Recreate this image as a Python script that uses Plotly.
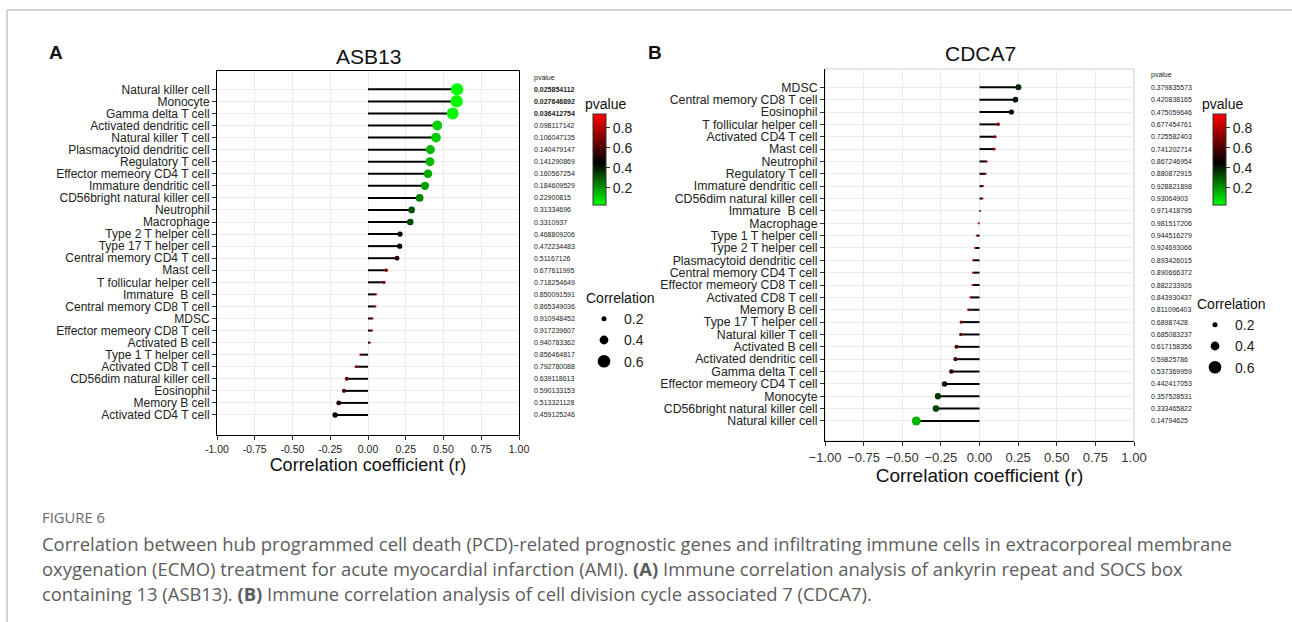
import plotly.graph_objects as go

W, H = 1292, 622

# ---------------- data ----------------
asb13_cells = ["Natural killer cell", "Monocyte", "Gamma delta T cell", "Activated dendritic cell",
               "Natural killer T cell", "Plasmacytoid dendritic cell", "Regulatory T cell",
               "Effector memeory CD4 T cell", "Immature dendritic cell", "CD56bright natural killer cell",
               "Neutrophil", "Macrophage", "Type 2 T helper cell", "Type 17 T helper cell",
               "Central memory CD4 T cell", "Mast cell", "T follicular helper cell", "Immature  B cell",
               "Central memory CD8 T cell", "MDSC", "Effector memeory CD8 T cell", "Activated B cell",
               "Type 1 T helper cell", "Activated CD8 T cell", "CD56dim natural killer cell",
               "Eosinophil", "Memory B cell", "Activated CD4 T cell"]
asb13_r = [0.590, 0.587, 0.561, 0.459, 0.450, 0.413, 0.410, 0.397, 0.377, 0.342,
           0.289, 0.280, 0.212, 0.210, 0.192, 0.121, 0.106, 0.053, 0.049, 0.031,
           0.029, 0.015, -0.051, -0.080, -0.141, -0.159, -0.194, -0.218]
asb13_p = [0.025854112, 0.027646892, 0.036412754, 0.098117142, 0.106047135, 0.140479147,
           0.141290869, 0.160567254, 0.184609529, 0.22900815, 0.31334696, 0.3310937,
           0.468809206, 0.472234483, 0.51167126, 0.677611995, 0.718254649, 0.850091591,
           0.865349036, 0.910948452, 0.917239607, 0.940783362, 0.856464817, 0.792780088,
           0.639118613, 0.590133153, 0.513321128, 0.459125246]

cdca7_cells = ["MDSC", "Central memory CD8 T cell", "Eosinophil", "T follicular helper cell",
               "Activated CD4 T cell", "Mast cell", "Neutrophil", "Regulatory T cell",
               "Immature dendritic cell", "CD56dim natural killer cell", "Immature  B cell",
               "Macrophage", "Type 1 T helper cell", "Type 2 T helper cell",
               "Plasmacytoid dendritic cell", "Central memory CD4 T cell", "Effector memeory CD8 T cell",
               "Activated CD8 T cell", "Memory B cell", "Type 17 T helper cell", "Natural killer T cell",
               "Activated B cell", "Activated dendritic cell", "Gamma delta T cell",
               "Effector memeory CD4 T cell", "Monocyte", "CD56bright natural killer cell",
               "Natural killer cell"]
cdca7_r = [0.252, 0.233, 0.207, 0.121, 0.101, 0.095, 0.047, 0.041, 0.024, 0.022,
           0.007, -0.008, -0.020, -0.029, -0.042, -0.043, -0.045, -0.058, -0.072, -0.118,
           -0.121, -0.149, -0.156, -0.182, -0.226, -0.269, -0.282, -0.409]
cdca7_p = [0.379835573, 0.420838165, 0.475059646, 0.677454761, 0.725582403, 0.741202714,
           0.867246954, 0.880872915, 0.928821898, 0.93064903, 0.971418795, 0.981517206,
           0.944516279, 0.924693066, 0.893426015, 0.890666372, 0.882233926, 0.843930437,
           0.811096403, 0.68987428, 0.685083237, 0.617158356, 0.59825786, 0.537369959,
           0.442417053, 0.357528531, 0.333465822, 0.14794625]

x_ticks = [-1.0, -0.75, -0.5, -0.25, 0.0, 0.25, 0.5, 0.75, 1.0]
x_ticktext_a = ["-1.00", "-0.75", "-0.50", "-0.25", "0.00", "0.25", "0.50", "0.75", "1.00"]
x_ticktext_b = ["\u22121.00", "\u22120.75", "\u22120.50", "\u22120.25", "0.00", "0.25", "0.50", "0.75", "1.00"]
size_legend_vals = [0.2, 0.4, 0.6]
cbar_ticks = [0.2, 0.4, 0.6, 0.8]

# ---------------- helpers ----------------
FONT = "Liberation Sans, Arial, sans-serif"
CAPFONT = "Open Sans, Noto Sans, sans-serif"
CMIN, CMAX = 0.026, 0.94
COLORSCALE = [[0.0, "#00FF00"], [0.46, "#000000"], [1.0, "#FF0000"]]


def px(x):
    return x / W


def py(y):
    return 1 - y / H


def dot_size(r):
    return 1.2 + 19 * abs(r)


def label(x, y, text, size, color="#111111", xanchor="center", family=FONT):
    fig.add_annotation(x=px(x), y=py(y), xref="paper", yref="paper", xanchor=xanchor,
                       yanchor="middle", text=text, showarrow=False,
                       font=dict(family=family, size=size, color=color))


fig = go.Figure()

panels = [
    dict(cells=asb13_cells, r=asb13_r, p=asb13_p, xa="x", ya="y", leg="legend",
         cb_x=593, cb_y=114, ptext_x=532),
    dict(cells=cdca7_cells, r=cdca7_r, p=cdca7_p, xa="x2", ya="y2", leg="legend2",
         cb_x=1213, cb_y=114, ptext_x=1149),
]

for pn in panels:
    seg_x, seg_y = [], []
    for c, r in zip(pn["cells"], pn["r"]):
        seg_x += [0, r, None]
        seg_y += [c, c, None]
    fig.add_trace(go.Scatter(x=seg_x, y=seg_y, mode="lines", xaxis=pn["xa"], yaxis=pn["ya"],
                             line=dict(color="black", width=2), showlegend=False, hoverinfo="skip"))
    fig.add_trace(go.Scatter(
        x=pn["r"], y=pn["cells"], mode="markers", xaxis=pn["xa"], yaxis=pn["ya"], showlegend=False,
        marker=dict(size=[dot_size(r) for r in pn["r"]], color=pn["p"], colorscale=COLORSCALE,
                    cmin=CMIN, cmax=CMAX, line=dict(width=0), opacity=1,
                    colorbar=dict(x=px(pn["cb_x"]), xanchor="left", xpad=0,
                                  y=py(pn["cb_y"]), yanchor="top", ypad=0,
                                  thickness=13, len=91, lenmode="pixels",
                                  outlinewidth=1, outlinecolor="#333333",
                                  tickvals=cbar_ticks, ticktext=[f"{v:.1f}" for v in cbar_ticks],
                                  ticks="outside", ticklen=4, tickcolor="#333333",
                                  tickfont=dict(family=FONT, size=14, color="#222222")))))
    # size legend entries
    for s in size_legend_vals:
        fig.add_trace(go.Scatter(x=[None], y=[None], mode="markers", xaxis=pn["xa"], yaxis=pn["ya"],
                                 marker=dict(size=dot_size(s), color="black"), name=f"{s}",
                                 legend=pn["leg"], showlegend=True))
    # p-value column
    for c, p in zip(pn["cells"], pn["p"]):
        t = str(p)
        if p < 0.05:
            t = f"<b>{t}</b>"
        fig.add_annotation(x=px(pn["ptext_x"]), xref="paper", xanchor="left", y=c, yref=pn["ya"],
                           yanchor="middle", text=t, showarrow=False,
                           font=dict(family=FONT, size=7, color="#222222"))

# p-value headers and colorbar titles
label(532, 78, "pvalue", 7, "#222222", "left")
label(1149, 75, "pvalue", 7, "#222222", "left")
label(583, 104, "pvalue", 14, "#111111", "left")
label(1200, 104, "pvalue", 14, "#111111", "left")

# panel titles and letters
label(368, 57, "ASB13", 21)
label(980, 53, "CDCA7", 21)
label(56, 52, "<b>A</b>", 19)
label(655, 52, "<b>B</b>", 19)

# caption
label(40, 517, "FIGURE 6", 14.8, "#6a6a6a", "left", CAPFONT)
cap_lines = [
    "Correlation between hub programmed cell death (PCD)-related prognostic genes and infiltrating immune cells in extracorporeal membrane",
    "oxygenation (ECMO) treatment for acute myocardial infarction (AMI). <b>(A)</b> Immune correlation analysis of ankyrin repeat and SOCS box",
    "containing 13 (ASB13). <b>(B)</b> Immune correlation analysis of cell division cycle associated 7 (CDCA7).",
]
for i, line in enumerate(cap_lines):
    label(40, 543 + 25 * i, line, 18.4, "#5c5c5c", "left", CAPFONT)

# card border
fig.add_shape(type="line", xref="paper", yref="paper", x0=px(7), x1=1, y0=py(10), y1=py(10),
              line=dict(color="#c4c4c4", width=1.5))
fig.add_shape(type="line", xref="paper", yref="paper", x0=px(7), x1=px(7), y0=py(10), y1=0,
              line=dict(color="#c4c4c4", width=1.5))
# light gray frame for panel B (top/right)
fig.add_shape(type="rect", xref="x2 domain", yref="y2 domain", x0=0, x1=1, y0=0, y1=1,
              line=dict(color="#cccccc", width=1), layer="below")

axis_common = dict(showgrid=True, gridcolor="#EBEBEB", gridwidth=1, zeroline=False, automargin=False,
                   ticks="outside", ticklen=4, tickcolor="#333333", showline=True, linecolor="black",
                   linewidth=1)

legend_common = dict(xanchor="left", yanchor="top", bgcolor="rgba(0,0,0,0)",
                     title=dict(text="Correlation", font=dict(size=14, color="#111111")),
                     font=dict(size=14, color="#222222"), itemsizing="trace", itemwidth=30,
                     tracegroupgap=0)

fig.update_layout(
    template="none",
    width=W, height=H, margin=dict(l=0, r=0, t=0, b=0, autoexpand=False),
    paper_bgcolor="white", plot_bgcolor="white",
    font=dict(family=FONT, color="#222222"),
    xaxis=dict(domain=[px(217), px(519)], range=[-1, 1], tickvals=x_ticks, ticktext=x_ticktext_a,
               tickfont=dict(size=10.5, color="#222222"), mirror=True, anchor="y",
               title=dict(text="Correlation coefficient (r)", font=dict(size=18, color="#111111"),
                          standoff=3), **axis_common),
    yaxis=dict(domain=[py(435), py(71)], type="category", categoryorder="array",
               categoryarray=asb13_cells, tickmode="array", tickvals=asb13_cells,
               range=[28.66, -1.52], tickfont=dict(size=12, color="#222222"),
               mirror=True, anchor="x", **axis_common),
    xaxis2=dict(domain=[px(825), px(1134)], range=[-1, 1], tickvals=x_ticks, ticktext=x_ticktext_b,
                tickfont=dict(size=13, color="#333333"), mirror=False, anchor="y2",
                title=dict(text="Correlation coefficient (r)", font=dict(size=19, color="#111111"),
                           standoff=0), **axis_common),
    yaxis2=dict(domain=[py(441), py(69)], type="category", categoryorder="array",
                categoryarray=cdca7_cells, tickmode="array", tickvals=cdca7_cells,
                range=[28.62, -1.48], tickfont=dict(size=12.3, color="#222222"),
                mirror=False, anchor="x2", **axis_common),
    legend=dict(x=px(584), y=py(285), **legend_common),
    legend2=dict(x=px(1195), y=py(291), **legend_common),
)

fig.write_html("out.html")
